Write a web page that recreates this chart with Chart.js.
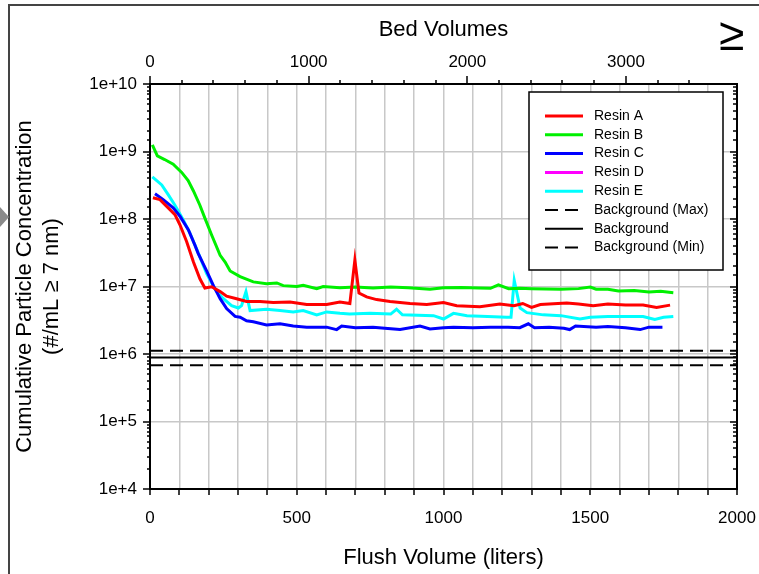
<!DOCTYPE html>
<html>
<head>
<meta charset="utf-8">
<script src="https://cdn.jsdelivr.net/npm/chart.js@4.4.1/dist/chart.umd.min.js"></script>
<style>
  body { margin: 0; background: #fff; }
  #wrap { position: relative; width: 759px; height: 574px; overflow: hidden; }
  #frameLeft { position: absolute; left: 8px; top: 4px; width: 2px; height: 570px; background: #444; }
  #frameTop { position: absolute; left: 8px; top: 4px; width: 751px; height: 2px; background: #444; }
  #arrow { position: absolute; left: 0; top: 207px; width: 0; height: 0;
           border-top: 10px solid transparent; border-bottom: 10px solid transparent; border-left: 9px solid #8a8a8a; }
  #geq { position: absolute; left: 719px; top: 7px; font: 46px 'Liberation Sans', Arial, sans-serif; color: #000; }
</style>
</head>
<body>
<div id="wrap">
  <canvas id="chartjs-0" width="759" height="574"></canvas>
  <div id="frameLeft"></div>
  <div id="frameTop"></div>
  <div id="arrow"></div>
  <div id="geq">&ge;</div>
</div>
<script>
/* flush volume (liters) and concentration (#/mL) */
var resinAX = [10, 34, 62, 85, 102, 125, 148, 170, 187, 210, 239, 261, 295, 329, 375, 420, 477, 534, 602, 647, 681, 698, 712, 738, 772, 818, 886, 943, 1000, 1045, 1124, 1192, 1240, 1270, 1300, 1330, 1420, 1460, 1510, 1560, 1620, 1680, 1726, 1772];
var resinAY = [2.06e8, 1.94e8, 1.46e8, 1.16e8, 8.2e7, 4.6e7, 2.3e7, 1.3e7, 9.5e6, 9.9e6, 8.4e6, 7.2e6, 6.6e6, 6.0e6, 6.0e6, 5.8e6, 5.9e6, 5.4e6, 5.4e6, 5.9e6, 5.6e6, 2.46e7, 8.0e6, 7.0e6, 6.4e6, 6.0e6, 5.6e6, 5.4e6, 5.8e6, 5.2e6, 5.0e6, 5.5e6, 5.2e6, 5.6e6, 4.9e6, 5.4e6, 5.7e6, 5.5e6, 5.2e6, 5.5e6, 5.3e6, 5.3e6, 4.9e6, 5.3e6];

var resinBX = [8, 25, 50, 79, 108, 130, 148, 170, 187, 210, 239, 256, 273, 307, 352, 397, 432, 454, 500, 522, 568, 590, 647, 700, 760, 820, 880, 954, 1000, 1060, 1120, 1160, 1187, 1222, 1260, 1300, 1350, 1400, 1460, 1500, 1520, 1560, 1596, 1650, 1700, 1740, 1783];
var resinBY = [1.25e9, 8.6e8, 7.6e8, 6.5e8, 4.9e8, 3.7e8, 2.6e8, 1.6e8, 1.03e8, 5.8e7, 2.9e7, 2.3e7, 1.7e7, 1.4e7, 1.17e7, 1.1e7, 1.13e7, 1.03e7, 1.0e7, 1.04e7, 9.3e6, 1.0e7, 9.6e6, 9.8e6, 9.5e6, 9.8e6, 9.6e6, 9.1e6, 9.6e6, 9.7e6, 9.5e6, 9.4e6, 1.06e7, 9.3e6, 9.4e6, 9.3e6, 9.2e6, 9.1e6, 9.3e6, 9.8e6, 9.1e6, 9.1e6, 8.6e6, 8.7e6, 8.3e6, 8.5e6, 8.1e6];

var resinCX = [17, 45, 79, 102, 131, 153, 164, 193, 216, 239, 261, 290, 307, 329, 352, 397, 443, 488, 534, 602, 636, 653, 700, 760, 800, 852, 920, 954, 1000, 1034, 1100, 1160, 1220, 1260, 1289, 1310, 1360, 1410, 1430, 1450, 1520, 1560, 1620, 1670, 1700, 1746];
var resinCY = [2.36e8, 1.94e8, 1.46e8, 1.1e8, 6.9e7, 4.1e7, 3.1e7, 1.7e7, 1.03e7, 6.6e6, 4.7e6, 3.6e6, 3.5e6, 3.1e6, 3.0e6, 2.7e6, 2.8e6, 2.6e6, 2.5e6, 2.5e6, 2.3e6, 2.6e6, 2.45e6, 2.5e6, 2.4e6, 2.3e6, 2.6e6, 2.35e6, 2.45e6, 2.5e6, 2.45e6, 2.5e6, 2.5e6, 2.45e6, 2.8e6, 2.45e6, 2.5e6, 2.4e6, 2.3e6, 2.6e6, 2.5e6, 2.55e6, 2.45e6, 2.3e6, 2.5e6, 2.5e6];

var resinDX = [];
var resinDY = [];

var resinEX = [8, 40, 62, 85, 113, 136, 165, 193, 221, 250, 278, 301, 312, 327, 341, 397, 443, 488, 522, 568, 602, 647, 680, 750, 820, 840, 860, 966, 1000, 1034, 1080, 1150, 1215, 1230, 1241, 1261, 1284, 1340, 1400, 1465, 1500, 1560, 1620, 1680, 1720, 1750, 1783];
var resinEY = [4.2e8, 3.2e8, 2.3e8, 1.6e8, 9.8e7, 6.2e7, 3.1e7, 1.55e7, 9.2e6, 6.6e6, 5.2e6, 4.8e6, 5.2e6, 8.4e6, 4.4e6, 4.6e6, 4.4e6, 4.2e6, 4.4e6, 3.8e6, 4.2e6, 4.0e6, 3.9e6, 4.0e6, 3.9e6, 4.6e6, 3.8e6, 3.7e6, 3.3e6, 4.0e6, 3.7e6, 3.6e6, 3.5e6, 3.5e6, 1.23e7, 4.8e6, 4.1e6, 3.8e6, 3.7e6, 3.3e6, 3.5e6, 3.6e6, 3.6e6, 3.6e6, 3.25e6, 3.5e6, 3.6e6];

var bgX = [0, 2000];
var bgMaxY = [1.12e6, 1.12e6];
var bgY = [8.9e5, 8.9e5];
var bgMinY = [6.8e5, 6.8e5];

var yDecades = [1e4, 1e5, 1e6, 1e7, 1e8, 1e9, 1e10];
var bedVolumeMax = 3700;   /* top axis: bed volumes matching 2000 liters */

function pts(xs, ys) {
    var out = [];
    for (var i = 0; i < xs.length; i++) {
        out.push({ x: xs[i], y: ys[i] });
    }
    return out;
}

function isDecade(v) {
    var e = Math.log10(v);
    return Math.abs(e - Math.round(e)) < 1e-9;
}

Chart.defaults.font.family = "'Liberation Sans', Arial, sans-serif";
Chart.defaults.color = '#000';

function line(label, xs, ys, color, dash, width) {
    return {
        label: label,
        data: pts(xs, ys),
        borderColor: color,
        backgroundColor: color,
        borderWidth: width,
        borderDash: dash,
        pointRadius: 0,
        fill: false,
        tension: 0,
        xAxisID: 'x',
        yAxisID: 'y'
    };
}

/* keep the end labels of horizontal axes from shrinking the plot */
function noEdgePad(s) {
    s.paddingLeft = 0;
    s.paddingRight = 0;
}

/* draws the tick marks: short minor ticks, longer major ones, right axis inward */
var tickMarks = {
    id: 'tickMarks',
    afterDraw: function (chart) {
        var ctx = chart.ctx;
        var sx = chart.scales.x, sx2 = chart.scales.x2, sy = chart.scales.y, sy2 = chart.scales.y2;
        ctx.save();
        ctx.strokeStyle = '#000';
        ctx.lineWidth = 1.5;
        ctx.beginPath();
        sx.ticks.forEach(function (t) {
            var p = Math.round(sx.getPixelForValue(t.value));
            ctx.moveTo(p, sx.top);
            ctx.lineTo(p, sx.top + 6);
        });
        sx2.ticks.forEach(function (t) {
            if (t.value % 200 !== 0) return;
            var p = Math.round(sx2.getPixelForValue(t.value));
            var len = t.value % 1000 === 0 ? 8 : 4;
            ctx.moveTo(p, sx2.bottom);
            ctx.lineTo(p, sx2.bottom - len);
        });
        sy.ticks.forEach(function (t) {
            var p = Math.round(sy.getPixelForValue(t.value));
            var len = isDecade(t.value) ? 7 : 3;
            ctx.moveTo(sy.right, p);
            ctx.lineTo(sy.right - len, p);
        });
        sy2.ticks.forEach(function (t) {
            var p = Math.round(sy2.getPixelForValue(t.value));
            var len = isDecade(t.value) ? 7 : 4;
            ctx.moveTo(sy2.left, p);
            ctx.lineTo(sy2.left - len, p);
        });
        ctx.stroke();
        ctx.restore();
    }
};

/* boxed legend inside the plot, upper right */
var boxLegend = {
    id: 'boxLegend',
    afterDraw: function (chart) {
        var ctx = chart.ctx;
        var area = chart.chartArea;
        var left = area.right - 208, top = area.top + 8, w = 194, h = 178;
        ctx.save();
        ctx.fillStyle = '#fff';
        ctx.fillRect(left, top, w, h);
        ctx.strokeStyle = '#000';
        ctx.lineWidth = 1.5;
        ctx.strokeRect(left, top, w, h);
        ctx.font = "14px 'Liberation Sans', Arial, sans-serif";
        ctx.textBaseline = 'middle';
        ctx.textAlign = 'left';
        chart.data.datasets.forEach(function (ds, i) {
            var y = top + 24 + i * 18.8;
            ctx.beginPath();
            ctx.strokeStyle = ds.borderColor;
            ctx.lineWidth = ds.borderWidth;
            ctx.setLineDash(ds.borderDash || []);
            ctx.moveTo(left + 16, y);
            ctx.lineTo(left + 54, y);
            ctx.stroke();
            ctx.setLineDash([]);
            ctx.fillStyle = '#000';
            ctx.fillText(ds.label, left + 65, y);
        });
        ctx.restore();
    }
};

var ctx0 = document.getElementById("chartjs-0");

var myChart = new Chart(ctx0, {
    type: 'line',
    data: {
        datasets: [
            line('Resin A', resinAX, resinAY, '#ff0000', [], 3),
            line('Resin B', resinBX, resinBY, '#00f000', [], 3),
            line('Resin C', resinCX, resinCY, '#0000ff', [], 3),
            line('Resin D', resinDX, resinDY, '#ff00ff', [], 3),
            line('Resin E', resinEX, resinEY, '#00ffff', [], 3),
            line('Background (Max)', bgX, bgMaxY, '#000', [13, 7], 2),
            line('Background', bgX, bgY, '#000', [], 2),
            line('Background (Min)', bgX, bgMinY, '#000', [13, 7], 2)
        ]
    },
    options: {
        responsive: false,
        animation: false,
        layout: { padding: 0 },
        plugins: {
            legend: { display: false },
            tooltip: { enabled: false }
        },
        scales: {
            x: {
                type: 'linear',
                position: 'bottom',
                min: 0,
                max: 2000,
                ticks: {
                    stepSize: 100,
                    autoSkip: false,
                    maxRotation: 0,
                    padding: 19,
                    font: { size: 17 },
                    callback: function (v) { return v % 500 === 0 ? String(v) : ''; }
                },
                grid: { color: '#c8c8c8', lineWidth: 1.5, drawTicks: false },
                border: { color: '#000', width: 2 },
                title: { display: true, text: 'Flush Volume (liters)', font: { size: 22 }, padding: { top: 0, bottom: 3 } },
                afterFit: function (s) { s.height = 85; noEdgePad(s); }
            },
            x2: {
                type: 'linear',
                position: 'top',
                min: 0,
                max: bedVolumeMax,
                ticks: {
                    stepSize: 200,
                    autoSkip: false,
                    maxRotation: 0,
                    padding: 11,
                    font: { size: 17 },
                    callback: function (v) { return v % 1000 === 0 ? String(v) : ''; }
                },
                grid: { color: 'transparent', drawTicks: false },
                border: { color: '#000', width: 2 },
                title: { display: true, text: 'Bed Volumes', font: { size: 22 }, padding: { top: 17, bottom: 0 } },
                afterFit: function (s) { s.height = 84; noEdgePad(s); }
            },
            y: {
                type: 'logarithmic',
                position: 'left',
                min: yDecades[0],
                max: yDecades[yDecades.length - 1],
                ticks: {
                    autoSkip: false,
                    padding: 13,
                    font: { size: 17 },
                    callback: function (v) {
                        return isDecade(v) ? '1e+' + Math.round(Math.log10(v)) : '';
                    }
                },
                grid: {
                    color: function (c) { return c.tick && isDecade(c.tick.value) ? '#c8c8c8' : 'transparent'; },
                    lineWidth: 1.5,
                    drawTicks: false
                },
                border: { color: '#000', width: 2 },
                title: {
                    display: true,
                    text: ['Cumulative Particle Concentration', '(#/mL \u2265 7 nm)'],
                    font: { size: 22, lineHeight: 1.2 },
                    padding: { top: 12, bottom: 0 }
                },
                afterFit: function (s) { s.width = 150; }
            },
            y2: {
                type: 'logarithmic',
                position: 'right',
                min: yDecades[0],
                max: yDecades[yDecades.length - 1],
                ticks: { display: false, autoSkip: false },
                grid: { color: 'transparent', drawTicks: false },
                border: { color: '#000', width: 2 },
                afterFit: function (s) { s.width = 22; }
            }
        }
    },
    plugins: [tickMarks, boxLegend]
});
</script>
</body>
</html>
